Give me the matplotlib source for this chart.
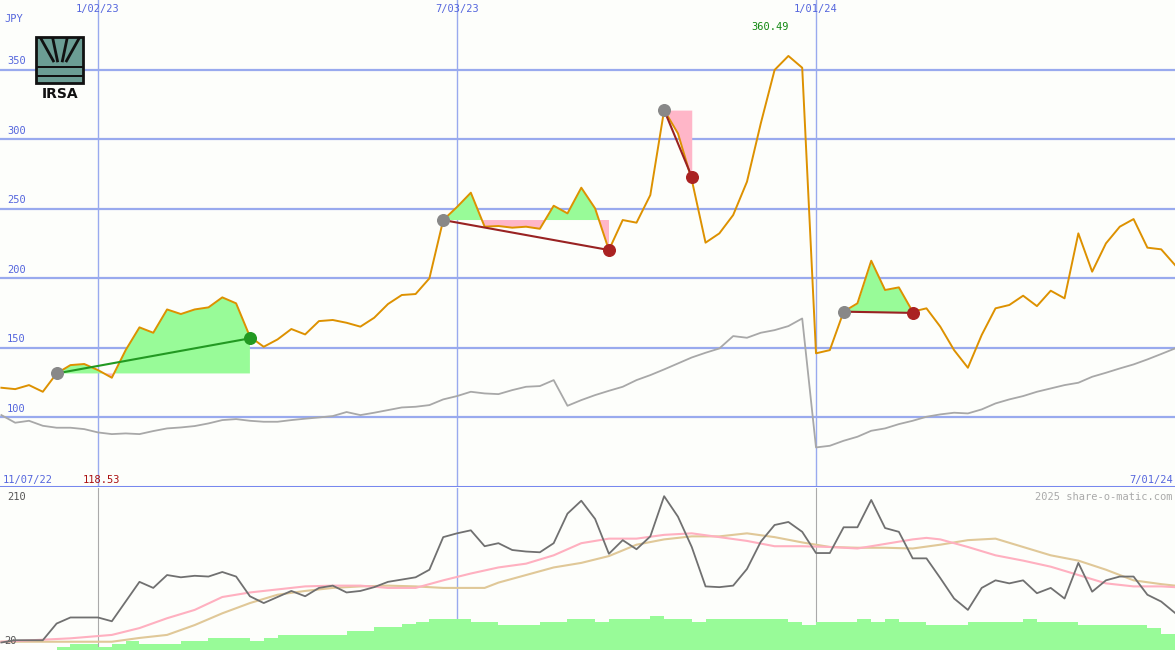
import matplotlib
matplotlib.use("Agg")
import matplotlib.pyplot as plt
import numpy as np
from matplotlib.patches import Rectangle

# ---------------- data (weekly, index 0 = week of 11/14/22) ----------------
price = [121.1,120.1,123.0,118.2,131.4,137.4,138.2,133.8,128.3,148.2,
         164.6,160.7,177.5,174.2,177.5,179.0,186.2,181.9,157.9,150.6,
         155.9,163.4,159.5,169.1,169.9,167.9,165.1,171.5,181.4,187.9,
         188.6,199.9,241.9,251.3,261.6,237.1,237.6,236.4,237.1,235.6,
         252.2,246.7,265.2,250.3,220.3,241.9,240.0,259.9,321.1,304.3,
         271.0,225.6,232.3,245.5,269.5,311.5,350.0,360.1,351.6,145.9,
         148.2,175.9,181.9,212.6,191.5,193.4,175.9,178.3,165.1,148.2,
         135.5,159.1,178.3,180.7,187.4,179.9,191.0,185.5,232.3,204.7,
         225.1,237.1,242.6,222.0,220.8,209.5]
bench = [101.4,95.9,97.3,93.7,92.3,92.3,91.3,88.9,87.7,88.2,
         87.7,89.9,91.8,92.5,93.5,95.4,97.8,98.5,97.3,96.6,
         96.6,97.8,98.8,99.7,100.7,103.6,101.4,103.1,105.0,106.9,
         107.4,108.6,112.7,115.1,118.2,117.0,116.5,119.4,121.8,122.3,
         126.6,108.1,112.2,115.8,118.9,121.8,126.6,130.2,134.3,138.6,
         142.9,146.3,149.4,158.3,157.1,160.7,162.6,165.5,171.0,78.1,
         79.3,82.9,85.8,90.1,91.8,94.9,97.3,100.2,101.9,103.1,
         102.6,105.5,109.8,112.7,115.1,118.2,120.6,123.0,124.7,129.0,
         131.9,135.0,137.9,141.5,145.4,149.4]
# trades: (entry week, exit week, exit price)
trades = [(4, 18, 156.7), (32, 44, 220.3), (48, 50, 273.1), (61, 66, 175.0)]

osc = [18,21,21,21,43,51,51,51,46,72,98,90,107,104,106,105,111,105,79,70,
       78,86,79,90,93,84,86,91,98,101,104,114,157,162,166,145,149,140,138,137,
       149,188,205,181,135,153,141,158,211,184,144,92,91,93,115,151,173,177,164,136,
       136,170,170,206,169,164,129,129,103,76,61,90,100,96,100,83,90,76,123,85,
       100,105,105,81,72,57]
ma_fast_x = [0,5,8,10,12,14,16,18,20,22,24,26,28,30,32,34,36,38,40,42,44,46,48,50,
             52,54,56,58,60,62,64,66,67,68,70,72,74,76,78,80,82,84,85]
ma_fast = [19,23.5,28,37,50,61,78,84,88,92,93,93,90,90,100,109,117,122,133,149,155,155,160,162,
           157,152,145,145,144,142,148,154,156,154,144,133,126,118,107,96,92,92,91]
ma_slow_x = [0,4,8,10,12,14,16,18,20,22,24,26,28,30,32,34,35,36,38,40,42,44,46,48,50,
             52,54,56,58,60,62,64,66,68,70,72,74,76,78,80,82,84,85]
ma_slow = [19,19,19,24,28,41,56.5,70,81,86,90,92,93,92,90,90,90,97,107,117,123,132,147,154,158,
           158,162,157,150,144,143,143,142,147,153,155,144,133,126,114,100,95,93]
vol = [8.1,8.1,8.1,8.1,12.5,16,16,12.5,16,20,16,16,16,20,20,24.4,24.4,24.4,20,24.4,
       28.5,28.5,28.5,28.5,28.5,33.7,33.7,38,38,42,45.5,49,49,49,45.5,45.5,41,41,41,45.5,
       45.5,49,49,45.5,49,49,49,53,49,49,45.5,49,49,49,49,49,49,45.5,41,45.5,
       45.5,45.5,49,45.5,49,45.5,45.5,41,41,41,45.5,45.5,45.5,45.5,49,45.5,45.5,45.5,41,41,
       41,41,41,37,29,29]
date_ticks = [7, 33, 59]
date_labels = ["1/02/23", "7/03/23", "1/01/24"]
price_ticks = [100, 150, 200, 250, 300, 350]

# ---------------- figure ----------------
BG = "#fdfefb"
GRID = "#99aaee"
TXT = "#5566dd"
plt.rcParams["font.family"] = ["DejaVu Sans Mono"]
fig = plt.figure(figsize=(11.75, 6.5), dpi=100, facecolor=BG)
ax = fig.add_axes([0, 163/650, 1, 487/650], facecolor=BG)
ax2 = fig.add_axes([0, 0, 1, 162/650], facecolor=BG)
x = np.arange(len(price))
XL = (-0.1, 85.0)

for a in (ax, ax2):
    a.set_xlim(*XL)
    a.set_xticks([]); a.set_yticks([])
    for s in a.spines.values():
        s.set_visible(False)

ax.set_ylim(49.6, 400.4)
for v in price_ticks:
    ax.axhline(v, color=GRID, lw=1.6, zorder=1)
    ax.text(0.006, v + 2.5, str(v), transform=ax.get_yaxis_transform(), color=TXT,
            fontsize=7.5, va="bottom", ha="left")
for d, lab in zip(date_ticks, date_labels):
    ax.axvline(d, color=GRID, lw=1.0, zorder=1)
    ax.text(d, 394, lab, color=TXT, fontsize=7.5, ha="center", va="center")
ax.axhline(49.9, color="#7788ee", lw=2.2, zorder=5)
ax.text(0.004, 0.955, "JPY", transform=ax.transAxes, color=TXT, fontsize=7.5)
ax.text(0.002, 0.005, "11/07/22", transform=ax.transAxes, color=TXT, fontsize=7.5, va="bottom")
ax.text(0.070, 0.005, "118.53", transform=ax.transAxes, color="#aa1111", fontsize=7.5, va="bottom")
ax.text(0.998, 0.005, "7/01/24", transform=ax.transAxes, color=TXT, fontsize=7.5, va="bottom", ha="right")
ax.text(57, 381, "360.49", color="#118811", fontsize=7.5, ha="right", va="center")

# trade fills
pr = np.array(price)
for e, xo, xp in trades:
    seg = np.arange(e, xo + 1)
    lvl = pr[e]
    ax.fill_between(seg, lvl, pr[seg], where=pr[seg] >= lvl, interpolate=True,
                    color="#98fb98", lw=0, zorder=2)
    ax.fill_between(seg, lvl, pr[seg], where=pr[seg] <= lvl, interpolate=True,
                    color="#ffb6c8", lw=0, zorder=2)

ax.plot(x, bench, color="#a8a8a8", lw=1.3, zorder=3)
ax.plot(x, price, color="#dd9100", lw=1.4, zorder=4)
for e, xo, xp in trades:
    win = xp > pr[e]
    lc = "#229922" if win else "#992222"
    ax.plot([e, xo], [pr[e], xp], color=lc, lw=1.5, zorder=5)
    ax.scatter([e], [pr[e]], s=70, color="#888888", zorder=6)
    ax.scatter([xo], [xp], s=70, color="#229922" if win else "#aa2222", zorder=6)

# logo
lx, ly, lw_, lh = 0.031, 0.83, 0.04, 0.095
ax.add_patch(Rectangle((lx, ly), lw_, lh, transform=ax.transAxes, facecolor="#6b9d94",
                       edgecolor="#111111", lw=2, zorder=7))
for yy in (ly + 0.012, ly + 0.030):
    ax.add_patch(Rectangle((lx, yy), lw_, 0.004, transform=ax.transAxes,
                           facecolor="#111111", zorder=8))
cx = lx + lw_ / 2
for dx in (-0.016, -0.006, 0.006, 0.016):
    ax.plot([cx + dx * 0.35, cx + dx], [ly + 0.045, ly + lh - 0.005], transform=ax.transAxes,
            color="#111111", lw=2, zorder=8)
ax.text(cx, ly - 0.008, "IRSA", transform=ax.transAxes, ha="center", va="top",
        fontsize=10, fontweight="bold", family="DejaVu Sans", color="#111111", zorder=8)

# lower panel
ax2.set_ylim(8.1, 221.8)
ax2.bar(x, np.array(vol) - 8.1, bottom=8.1, width=1.0, align="edge", color="#98fb98", lw=0, zorder=1)
ax2.axvline(date_ticks[0], color="#aaaaaa", lw=0.8, zorder=0)
ax2.axvline(date_ticks[1], color=GRID, lw=1.0, zorder=0)
ax2.axvline(date_ticks[2], color="#aaaaaa", lw=0.8, zorder=0)
ax2.plot(ma_slow_x, ma_slow, color="#e0c898", lw=1.5, zorder=2)
ax2.plot(ma_fast_x, ma_fast, color="#ffb0c0", lw=1.5, zorder=3)
ax2.plot(x, osc, color="#707070", lw=1.3, zorder=4)
ax2.text(0.006, 210, "210", transform=ax2.get_yaxis_transform(), color="#555555", fontsize=7.5, va="center")
ax2.text(0.004, 20, "20", transform=ax2.get_yaxis_transform(), color="#555555", fontsize=7.5, va="center")
ax2.text(0.998, 210, "2025 share-o-matic.com", transform=ax2.get_yaxis_transform(),
         color="#aaaaaa", fontsize=7.5, va="center", ha="right")

fig.savefig("out.png", dpi=100, facecolor=BG)
